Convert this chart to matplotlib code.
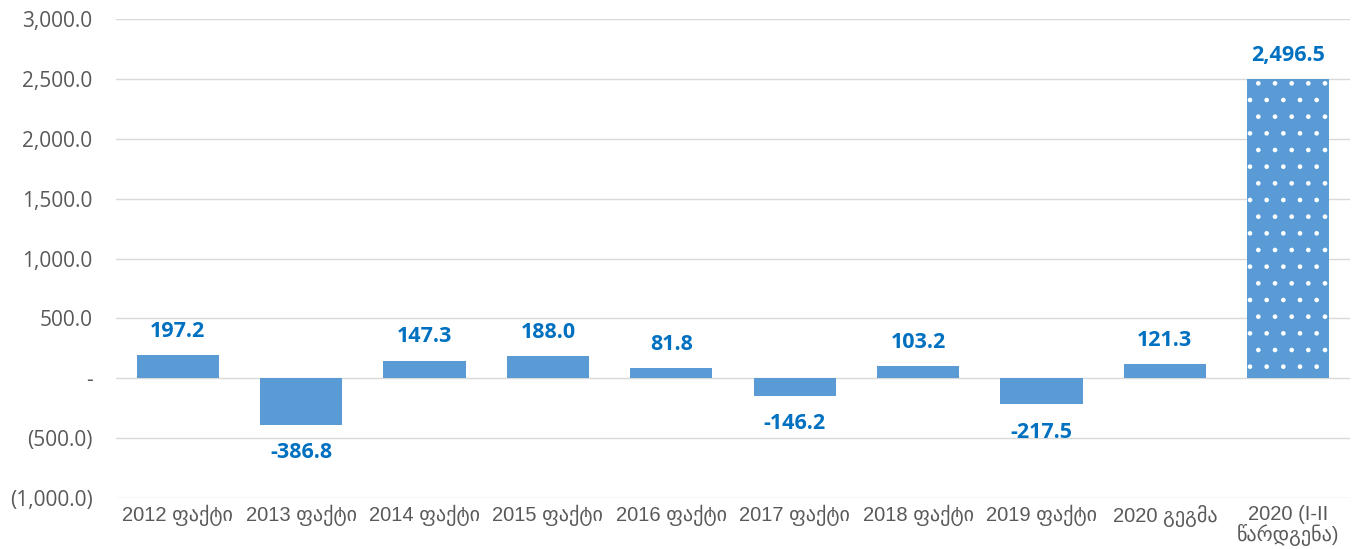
import matplotlib; matplotlib.use('Agg')
from matplotlib import pyplot as plt
from matplotlib.ticker import FuncFormatter
import numpy as np

categories = ['2012 ფაქტი', '2013 ფაქტი', '2014 ფაქტი', '2015 ფაქტი', '2016 ფაქტი',
              '2017 ფაქტი', '2018 ფაქტი', '2019 ფაქტი', '2020 გეგმა', '2020 (I-II\nწარდგენა)']
values = [197.2, -386.8, 147.3, 188.0, 81.8, -146.2, 103.2, -217.5, 121.3, 2496.5]
hatched = [False] * 9 + [True]

bar_color = '#5B9BD5'
label_color = '#0070C0'
tick_color = '#595959'

plt.rcParams['hatch.linewidth'] = 0.9

def fmt_acct(v, pos=None):
	# accounting style: zero as dash, negatives in brackets
	if abs(v) < 1e-9:
		return '-'
	s = '{:,.1f}'.format(abs(v))
	return '(%s)' % s if v < 0 else s

fig = plt.figure(figsize=(13.57, 5.49), dpi=100)
ax = fig.add_axes([116/1357., 1 - 498/549., 1234/1357., 479/549.])

x = np.arange(len(categories))
for i in range(len(values)):
	if hatched[i]:
		ax.bar(x[i], values[i], width=0.665, color=bar_color, edgecolor='white',
			   linewidth=0, hatch='.', zorder=2)
	else:
		ax.bar(x[i], values[i], width=0.665, color=bar_color, linewidth=0, zorder=2)
	off = 17 if values[i] >= 0 else -20
	ax.annotate('{:,.1f}'.format(values[i]),
				(x[i], values[i]), xytext=(0, off), textcoords='offset points',
				ha='center', va='center', fontsize=15.5, fontweight='bold',
				color=label_color, family=['Open Sans', 'DejaVu Sans'])

ax.set_xlim(-0.5, len(categories) - 0.5)
ax.set_ylim(-1000, 3000)
ax.set_yticks(np.arange(-1000, 3001, 500))
ax.yaxis.set_major_formatter(FuncFormatter(fmt_acct))
ax.grid(axis='y', color='#D9D9D9', linewidth=1, zorder=0)
ax.set_axisbelow(True)
ax.set_xticks(x)
ax.set_xticklabels(categories, family=['Liberation Sans', 'DejaVu Sans'], fontsize=14.5,
				   color=tick_color, linespacing=1.0, va='top')
for lbl in ax.get_yticklabels():
	lbl.set_family(['Open Sans', 'DejaVu Sans'])
	lbl.set_fontsize(15)
	lbl.set_color(tick_color)
ax.tick_params(axis='both', length=0)
ax.tick_params(axis='y', pad=17)
ax.tick_params(axis='x', pad=5)
for sp in ax.spines.values():
	sp.set_visible(False)

plt.savefig('out.png', dpi=100)
